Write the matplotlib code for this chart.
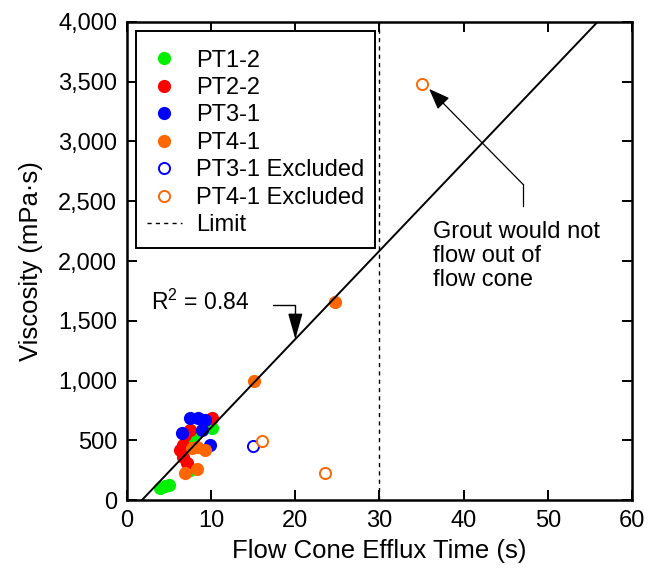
import numpy as np
import matplotlib
matplotlib.use("Agg")
import matplotlib.pyplot as plt
from matplotlib.patches import Rectangle
from matplotlib.ticker import FuncFormatter

plt.rcParams['font.family'] = ['Liberation Sans', 'DejaVu Sans']
plt.rcParams['mathtext.fontset'] = 'custom'
plt.rcParams['mathtext.rm'] = 'Liberation Sans'
plt.rcParams['mathtext.default'] = 'regular'

# flow cone efflux time (s) vs viscosity (mPa.s)
pt12_t = [3.9, 4.5, 5.0, 7.5, 7.8, 10.1]
pt12_v = [100, 117, 126, 252, 520, 604]
pt22_t = [10.1, 9.0, 6.7, 6.3, 6.7, 7.1, 6.9, 7.5]
pt22_v = [688, 671, 461, 419, 361, 310, 545, 587]
pt31_t = [7.5, 8.4, 9.3, 6.5, 8.9, 9.9]
pt31_v = [688, 688, 671, 562, 587, 461]
pt41_t = [8.3, 9.3, 7.7, 8.3, 6.9, 15.1, 24.7]
pt41_v = [444, 419, 436, 260, 226, 998, 1660]
pt31_ex_t = [15.0]
pt31_ex_v = [453]
pt41_ex_t = [16.0, 23.5, 35.0]
pt41_ex_v = [495, 226, 3480]

fit_slope = 73.9
fit_icpt = -131.6
r2 = 0.84
limit_t = 30

green = '#00f000'
red = '#ff0000'
blue = '#0000ff'
orange = '#ff6600'

fig = plt.figure(figsize=(6.49, 5.71), dpi=100)
ax = fig.add_axes([0.1957, 0.1243, 0.778, 0.8372])

ms = 9.5
ax.plot(pt12_t, pt12_v, 'o', color=green, ms=ms, mew=0, label='PT1-2', zorder=3)
ax.plot(pt22_t, pt22_v, 'o', color=red, ms=ms, mew=0, label='PT2-2', zorder=3)
ax.plot(pt31_t, pt31_v, 'o', color=blue, ms=ms, mew=0, label='PT3-1', zorder=3)
ax.plot(pt41_t, pt41_v, 'o', color=orange, ms=ms, mew=0, label='PT4-1', zorder=3)
ax.plot(pt31_ex_t, pt31_ex_v, 'o', mfc='white', mec=blue, ms=8, mew=1.4,
        label='PT3-1 Excluded', zorder=3)
ax.plot(pt41_ex_t, pt41_ex_v, 'o', mfc='white', mec=orange, ms=8, mew=1.4,
        label='PT4-1 Excluded', zorder=3)
ax.axvline(limit_t, color='black', ls=(0, (3, 3)), lw=1, label='Limit', zorder=2)

xs = np.linspace(0, 60, 200)
ax.plot(xs, fit_slope * xs + fit_icpt, color='black', lw=1.4, zorder=4)

ax.set_xlim(0, 60)
ax.set_ylim(0, 4000)
ax.set_xticks(np.arange(0, 61, 10))
ax.set_yticks(np.arange(0, 4001, 500))
ax.yaxis.set_major_formatter(FuncFormatter(lambda v, p: f'{v:,.0f}'))
ax.tick_params(direction='in', length=7, width=1.4, top=True, right=True,
               labelsize=17, pad=7)
for s in ax.spines.values():
    s.set_linewidth(1.8)

ax.set_xlabel('Flow Cone Efflux Time (s)', fontsize=18.5, labelpad=5)
ax.set_ylabel('Viscosity (mPa·s)', fontsize=18.5, labelpad=11)

leg = ax.legend(loc='upper left', bbox_to_anchor=(0.0178, 0.9644), fontsize=17,
                frameon=False, borderaxespad=0, handlelength=1.5,
                handletextpad=0.6, labelspacing=0.23, borderpad=0.45)
leg.set_zorder(6)

# R^2 callout
ax.text(2.9, 1652, f'R$^2$ = {r2:.2f}', fontsize=16.5, va='center', ha='left')
tip_x = 20.0
ax.annotate('', xy=(tip_x, fit_slope * tip_x + fit_icpt), xytext=(17.3, 1635),
            arrowprops=dict(arrowstyle='-|>,head_length=1.6,head_width=0.45',
                            connectionstyle='angle,angleA=0,angleB=90,rad=0',
                            color='black', lw=1, shrinkA=0, shrinkB=0))

# excluded point callout
ax.plot([47.05, 47.05], [2457, 2642], color='black', lw=0.9)
ax.annotate('', xy=(35.9, 3440), xytext=(47.05, 2642),
            arrowprops=dict(arrowstyle='-|>,head_length=1.3,head_width=0.5',
                            color='black', lw=0.9, shrinkA=0, shrinkB=0))
ax.text(36.4, 2331, 'Grout would not\nflow out of\nflow cone', fontsize=17,
        va='top', ha='left', linespacing=1.1)

# legend box with a little extra room at the top
fig.canvas.draw()
bb = leg.get_window_extent()
W, H = fig.bbox.width, fig.bbox.height
pad_lo, pad_hi = 1, 8
box = Rectangle((bb.x0 / W, (bb.y0 - pad_lo) / H), bb.width / W,
                (bb.height + pad_lo + pad_hi) / H,
                transform=fig.transFigure, facecolor='white', edgecolor='black',
                lw=1.4, zorder=5, clip_on=False)
ax.add_patch(box)

fig.savefig('out.png', dpi=100)
